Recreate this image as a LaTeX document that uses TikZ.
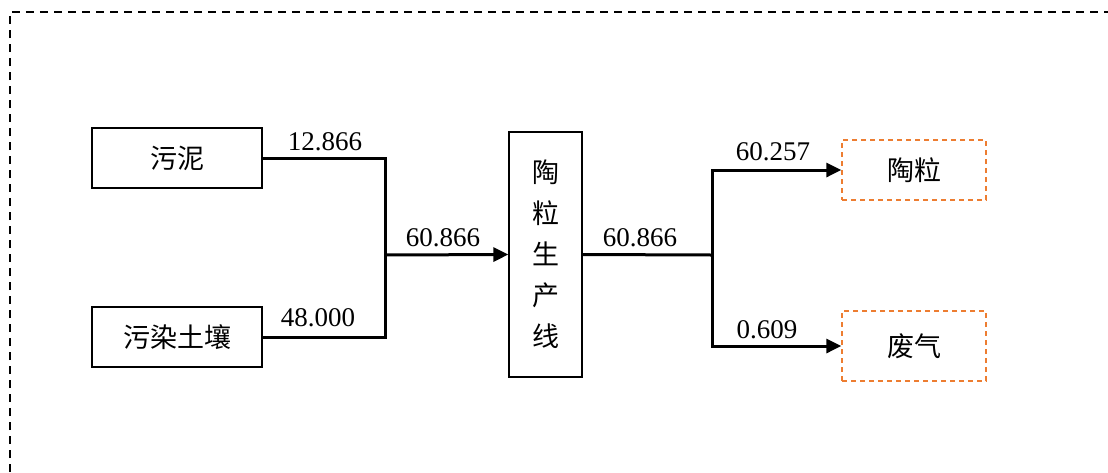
\documentclass[tikz,border=0pt]{standalone}
\usepackage{fontspec}
\setmainfont{Liberation Serif}
\newfontfamily\cjk{Noto Sans CJK SC}
\usetikzlibrary{arrows.meta}
\definecolor{orangeC}{HTML}{ED7D31}
\begin{document}
\begin{tikzpicture}[x=0.5pt,y=-0.5pt,
  box/.style={draw,line width=0.65pt,inner sep=0pt,font=\cjk\fontsize{13.5}{16}\selectfont},
  outbox/.style={draw=orangeC,dash pattern=on 2.5pt off 2pt,line width=0.65pt,inner sep=0pt,minimum width=72pt,font=\cjk\fontsize{13.5}{16}\selectfont},
  flow/.style={line width=1.5pt},
  arr/.style={flow,-{Triangle[length=7.5pt,width=7pt]}},
  lab/.style={inner sep=0pt,font=\fontsize{13.5}{16}\selectfont}]
\useasboundingbox (0,0) rectangle (1108,472);
\draw[dash pattern=on 4pt off 3pt,line width=1pt] (10,472) -- (10,12) -- (1108,12);
\node[box,minimum width=85pt,minimum height=30pt] (sludge) at (177,158) {污泥};
\node[box,minimum width=85pt,minimum height=30pt] (soil) at (177,337) {污染土壤};
\node[box,minimum width=36.5pt,minimum height=122.5pt,align=center,font=\cjk\fontsize{13.5}{20.5}\selectfont] (plant) at (545.5,254.5) {陶\\粒\\生\\产\\线};
\node[outbox,minimum height=30pt] (ceramic) at (914,170) {陶粒};
\node[outbox,minimum height=35pt] (gas) at (914,346) {废气};
\coordinate (j1) at (385,255);
\coordinate (j2) at (712,255);
\draw[flow] (sludge.east) -| (j1) |- (soil.east);
\draw[arr] (j1) -- (plant.west);
\draw[flow] (plant.east) -- (j2);
\draw[arr] (j2) |- (ceramic.west);
\draw[arr] (j2) |- (gas.west);
\node[lab] (l1) at (325,142) {12.866};
\node[lab] (l2) at (318,318) {48.000};
\node[lab] (l3) at (443,238) {60.866};
\node[lab] (l4) at (640,238) {60.866};
\node[lab] (l5) at (773,152) {60.257};
\node[lab] (l6) at (767,330) {0.609};
\end{tikzpicture}
\end{document}
